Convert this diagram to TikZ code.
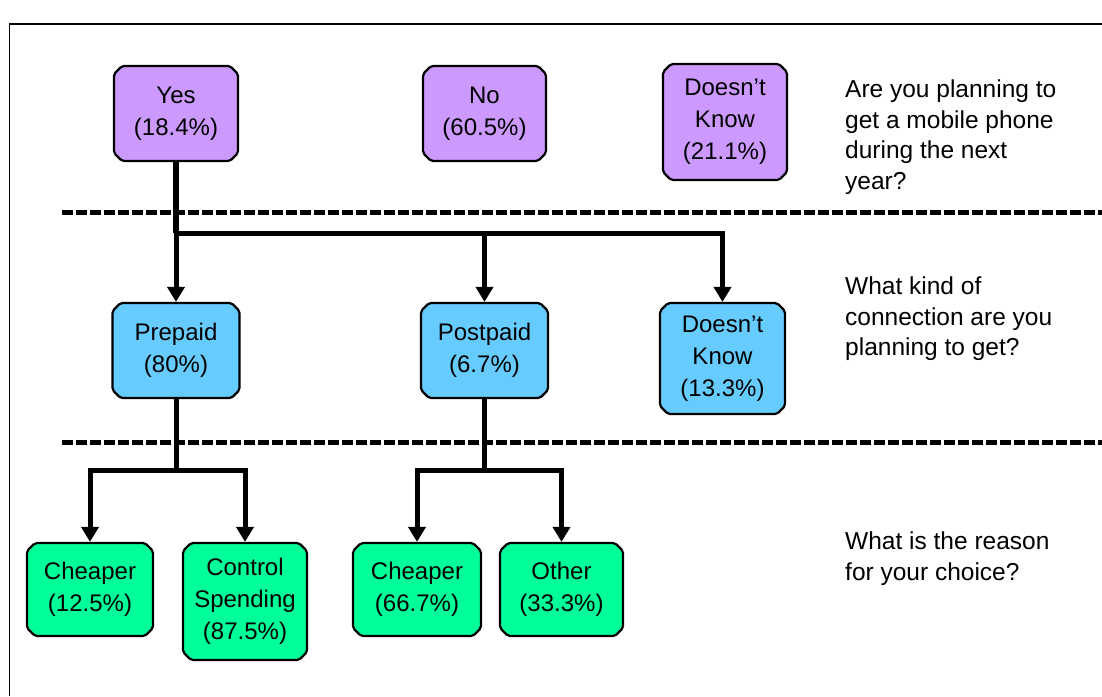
\documentclass[tikz,border=0pt]{standalone}
\usepackage{fontspec}
\setmainfont{Liberation Sans}
\usetikzlibrary{shapes.misc,arrows.meta}
\definecolor{qpurple}{HTML}{CC99FF}
\definecolor{qblue}{HTML}{66CCFF}
\definecolor{qgreen}{HTML}{00FF99}
\begin{document}
\begin{tikzpicture}[x=1pt,y=-1pt,
  box/.style={chamfered rectangle, chamfered rectangle xsep=4pt, chamfered rectangle ysep=4pt,
    rounded corners=2pt,
    draw=black, line width=2.2pt, align=center, inner sep=0pt,
    font=\fontsize{24}{32}\selectfont},
  pbox/.style={box, fill=qpurple},
  bbox/.style={box, fill=qblue},
  gbox/.style={box, fill=qgreen},
  question/.style={anchor=north west, align=left, inner sep=0pt,
    font=\fontsize{24.5}{30.5}\selectfont},
  conn/.style={line width=5pt},
  arr/.style={conn, -{Triangle[width=17pt,length=15pt]}},
  sep/.style={line width=5pt, dash pattern=on 11pt off 3pt}]
\useasboundingbox (0,0) rectangle (1102,696);
\fill[white] (0,0) rectangle (1102,696);
% frame
\draw[line width=1.5pt] (9.5,696) -- (9.5,24) -- (1102,24);
% separators
\draw[sep] (62,212) -- (1102,212);
\draw[sep] (62,442) -- (1102,442);
% level 1
\node[pbox, minimum width=124pt, minimum height=95pt] (yes) at (176,113.5) {Yes\\(18.4\%)};
\node[pbox, minimum width=123pt, minimum height=95pt] (no) at (484.5,113.5) {No\\(60.5\%)};
\node[pbox, minimum width=124pt, minimum height=116pt] (dk1) at (725,122) {Doesn’t\\Know\\(21.1\%)};
% level 2
\node[bbox, minimum width=127pt, minimum height=95pt] (prepaid) at (176,350.5) {Prepaid\\(80\%)};
\node[bbox, minimum width=127pt, minimum height=95pt] (postpaid) at (484.5,350.5) {Postpaid\\(6.7\%)};
\node[bbox, minimum width=125pt, minimum height=111pt] (dk2) at (722.5,358.5) {Doesn’t\\Know\\(13.3\%)};
% level 3
\node[gbox, minimum width=126pt, minimum height=93pt] (cheap1) at (90,589.5) {Cheaper\\(12.5\%)};
\node[gbox, minimum width=124pt, minimum height=117pt] (control) at (245,601.5) {Control\\Spending\\(87.5\%)};
\node[gbox, minimum width=128pt, minimum height=93pt] (cheap2) at (417,589.5) {Cheaper\\(66.7\%)};
\node[gbox, minimum width=123pt, minimum height=93pt] (other) at (561.5,589.5) {Other\\(33.3\%)};
% questions
\node[question] (q1) at (845,80) {Are you planning to\\get a mobile phone\\during the next\\year?};
\node[question] (q2) at (845,277) {What kind of\\connection are you\\planning to get?};
\node[question] (q3) at (845,532) {What is the reason\\for your choice?};
% connectors
\coordinate (bus1) at (176,233);
\coordinate (bus2) at (176,470);
\draw[conn, line width=6.5pt] (yes.south) -- (yes.south |- bus1);
\draw[arr] (prepaid.north |- bus1) -| (dk2.north);
\draw[arr] (prepaid.north |- bus1) -- (prepaid.north);
\draw[arr] (postpaid.north |- bus1) -- (postpaid.north);
\draw[arr] (prepaid.south) -- (prepaid.south |- bus2) -| (cheap1.north);
\draw[arr] (prepaid.south |- bus2) -| (control.north);
\draw[arr] (postpaid.south) -- (postpaid.south |- bus2) -| (cheap2.north);
\draw[arr] (postpaid.south |- bus2) -| (other.north);
\end{tikzpicture}
\end{document}
